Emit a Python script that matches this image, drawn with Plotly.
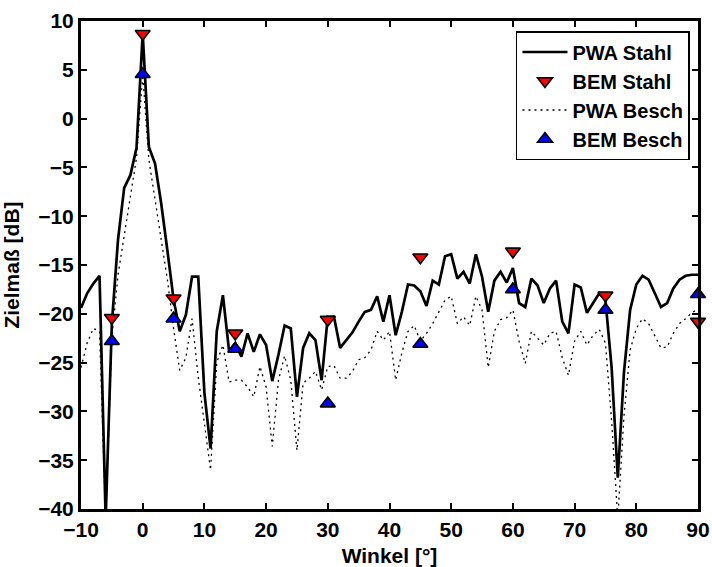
import plotly.graph_objects as go

# Winkel in Grad, 1°-Schritte
angles = list(range(-10, 91))

pwa_stahl = [
    -19.4, -17.9, -16.9, -16.1, -41.0, -21.0, -12.4, -7.1, -5.8, -3.0,
    8.7, -2.9, -4.6, -8.7, -13.5, -18.5, -21.8, -20.1, -16.2, -16.2,
    -28.1, -33.8, -21.8, -18.1, -23.8, -23.0, -24.4, -22.0, -23.9, -22.1,
    -23.2, -26.9, -24.2, -21.2, -21.5, -28.5, -23.5, -22.0, -22.7, -26.8,
    -20.3, -20.3, -23.5, -22.7, -21.9, -20.8, -19.8, -19.6, -18.2, -20.8,
    -18.1, -22.2, -19.8, -17.0, -17.1, -17.7, -19.2, -16.6, -17.0, -14.1,
    -13.9, -16.4, -15.7, -16.9, -13.9, -16.2, -19.8, -16.6, -15.7, -16.8,
    -15.3, -18.9, -19.3, -16.4, -17.1, -18.9, -17.4, -16.6, -20.8, -22.0,
    -17.0, -17.3, -19.9, -18.9, -17.9, -18.6, -25.5, -36.8, -26.0, -19.6,
    -17.0, -16.1, -16.5, -17.9, -19.3, -18.9, -17.4, -16.5, -16.1, -16.0,
    -16.0,
]

pwa_besch = [
    -25.5, -23.0, -21.5, -21.8, -41.0, -22.5, -16.0, -11.8, -8.0, -4.0,
    4.5, -4.2, -8.2, -12.2, -16.5, -21.5, -25.8, -24.5, -20.5, -26.5,
    -31.0, -36.0, -25.0, -23.2, -27.0, -26.8, -26.8, -27.5, -28.5, -25.4,
    -27.5, -33.6, -26.8, -24.3, -26.8, -34.0, -27.1, -26.6, -25.9, -27.8,
    -25.4, -25.3, -26.6, -26.6, -25.9, -24.7, -24.5, -23.7, -21.8, -22.7,
    -21.8, -26.8, -24.0, -21.8, -21.2, -22.8, -22.0, -21.0, -19.8, -18.6,
    -18.2, -21.0, -20.3, -21.2, -18.2, -19.6, -25.5, -21.8, -20.6, -20.4,
    -19.6, -22.8, -25.1, -21.8, -22.5, -23.2, -22.0, -21.8, -24.5, -26.3,
    -22.8, -21.8, -23.2, -22.2, -21.6, -23.0, -31.0, -41.0, -30.5, -23.7,
    -21.5, -20.5, -21.0, -22.3, -23.5, -23.4, -22.0, -21.0, -20.5, -19.9,
    -19.5,
]

bem_angles = [-5, 0, 5, 15, 30, 45, 60, 75, 90]
bem_stahl = [-20.4, 8.7, -18.4, -22.0, -20.6, -14.2, -13.6, -18.1, -20.8]
bem_besch = [-22.8, 4.55, -20.5, -23.6, -29.2, -23.1, -17.5, -19.6, -18.0]

family = "Liberation Sans, Arial, sans-serif"
font = dict(family=family, size=21, color="black", weight="bold")

fig = go.Figure()
fig.add_trace(go.Scatter(x=angles, y=pwa_stahl, mode="lines", name="PWA Stahl",
                         line=dict(color="black", width=2.7)))
fig.add_trace(go.Scatter(x=bem_angles, y=bem_stahl, mode="markers", name="BEM Stahl",
                         cliponaxis=False,
                         marker=dict(symbol="triangle-down", size=13, color="#ff0000",
                                     line=dict(color="black", width=1.6))))
fig.add_trace(go.Scatter(x=angles, y=pwa_besch, mode="lines", name="PWA Besch",
                         line=dict(color="black", width=1.3, dash="2px,4px")))
fig.add_trace(go.Scatter(x=bem_angles, y=bem_besch, mode="markers", name="BEM Besch",
                         cliponaxis=False,
                         marker=dict(symbol="triangle-up", size=13, color="#0000ff",
                                     line=dict(color="black", width=1.6))))

axis_common = dict(showline=True, linecolor="black", linewidth=3, mirror="ticks",
                   ticks="inside", ticklen=6, tickwidth=2, tickcolor="black",
                   showgrid=False, zeroline=False, tickfont=font, automargin=False)

fig.update_xaxes(range=[-10, 90], tickvals=list(range(-10, 91, 10)),
                 title=dict(text="Winkel [°]", font=font), **axis_common)
fig.update_yaxes(range=[-40, 10], tickvals=list(range(-40, 11, 5)),
                 title=dict(text="Zielmaß [dB]", font=font), **axis_common)

fig.update_layout(
    width=712, height=567,
    margin=dict(l=81, r=14, t=21, b=58),
    paper_bgcolor="white", plot_bgcolor="white",
    font=font,
    legend=dict(x=0.987, y=0.9795, xanchor="right", yanchor="top",
                bgcolor="white", bordercolor="black", borderwidth=1.5,
                itemwidth=45, entrywidth=150,
                font=dict(family=family, size=20, color="black", weight="bold")),
    showlegend=True,
)

# Browser-Standardrand der Seite entfernen, keine Modebar
fig.write_html("out.html", config={"displayModeBar": False},
               post_script="document.body.style.margin='0';")
